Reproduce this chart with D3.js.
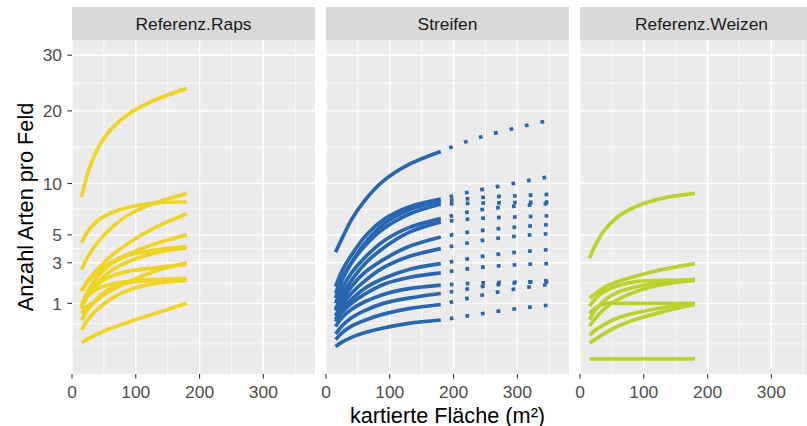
<!DOCTYPE html>
<html><head><meta charset="utf-8">
<script src="https://cdn.jsdelivr.net/npm/d3@7"></script>
<style>body{margin:0;background:#fff}svg{display:block}text{font-family:"Liberation Sans",Arial,sans-serif}</style>
</head><body><svg id="c" width="807" height="426"></svg>
<script>
// ---- data ----
const facets = ["Referenz.Raps", "Streifen", "Referenz.Weizen"];
const facetColors = ["#EFD425", "#2767B0", "#BDD12E"];
const xTicks = [0, 100, 200, 300];
const xMinor = [50, 150, 250, 350];
const yTicks = [1, 3, 5, 10, 20, 30];
const areaObs = [15, 25, 40, 60, 90, 130, 180];
const areaExt = [180, 215, 250, 300, 350];

const rapsObs = [
  [8.5, 11.3, 14.3, 17.0, 19.6, 21.8, 23.8],
  [4.4, 5.3, 6.2, 6.9, 7.5, 7.9, 8.0],
  [2.6, 3.4, 4.4, 5.5, 6.8, 7.9, 8.9],
  [1.5, 2.0, 2.6, 3.4, 4.4, 5.6, 6.85],
  [1.5, 1.95, 2.45, 3.0, 3.6, 4.3, 5.0],
  [1.0, 1.4, 1.9, 2.5, 3.1, 3.65, 4.0],
  [0.9, 1.5, 2.2, 2.9, 3.5, 3.85, 4.1],
  [0.67, 0.9, 1.15, 1.5, 1.95, 2.5, 3.0],
  [0.8, 1.3, 1.8, 2.2, 2.5, 2.7, 2.9],
  [0.49, 0.8, 1.2, 1.6, 1.9, 2.0, 2.0],
  [0.27, 0.5, 0.8, 1.15, 1.55, 1.85, 2.0],
  [1.0, 1.3, 1.6, 1.8, 1.95, 2.05, 2.1],
  [0.085, 0.13, 0.2, 0.3, 0.45, 0.67, 1.0]
];
const streifenObs = [
  [3.7, 4.7, 6.3, 8.1, 10.3, 12.3, 14.0],
  [1.7, 2.5, 3.5, 4.8, 6.3, 7.5, 8.3],
  [1.2, 2.0, 3.0, 4.3, 5.9, 7.2, 8.1],
  [1.4, 2.1, 3.0, 4.1, 5.5, 6.8, 7.8],
  [1.0, 1.6, 2.4, 3.3, 4.5, 5.6, 6.4],
  [0.8, 1.3, 2.0, 2.9, 4.0, 5.2, 6.1],
  [0.75, 1.1, 1.7, 2.4, 3.2, 4.1, 4.83],
  [0.6, 0.95, 1.4, 1.95, 2.7, 3.4, 3.95],
  [0.5, 0.8, 1.15, 1.6, 2.1, 2.6, 2.95],
  [0.45, 0.7, 1.0, 1.35, 1.8, 2.15, 2.4],
  [0.34, 0.55, 0.8, 1.05, 1.35, 1.6, 1.77],
  [0.2, 0.35, 0.55, 0.75, 1.0, 1.2, 1.39],
  [0.12, 0.22, 0.35, 0.48, 0.65, 0.82, 0.96],
  [0.05, 0.09, 0.15, 0.22, 0.31, 0.41, 0.49]
];
const streifenExt = [
  [14.0, 15.2, 16.2, 17.4, 18.5],
  [8.3, 8.9, 9.4, 10.1, 10.8],
  [8.1, 8.3, 8.5, 8.65, 8.8],
  [7.8, 7.85, 7.9, 7.95, 8.0],
  [6.4, 6.9, 7.3, 7.6, 7.85],
  [6.1, 6.3, 6.45, 6.55, 6.65],
  [4.83, 5.15, 5.4, 5.65, 5.86],
  [3.95, 4.3, 4.6, 4.9, 5.1],
  [2.95, 3.2, 3.45, 3.7, 3.88],
  [2.4, 2.6, 2.75, 2.88, 2.95],
  [1.77, 1.83, 1.88, 1.91, 1.93],
  [1.39, 1.55, 1.72, 1.88, 2.0],
  [0.96, 1.15, 1.35, 1.6, 1.8],
  [0.49, 0.58, 0.68, 0.82, 0.94]
];
const weizenObs = [
  [3.3, 4.3, 5.5, 6.6, 7.6, 8.4, 8.9],
  [1.2, 1.4, 1.7, 1.95, 2.25, 2.6, 2.95],
  [0.9, 1.2, 1.5, 1.75, 1.95, 2.0, 2.0],
  [0.5, 0.8, 1.15, 1.45, 1.7, 1.9, 2.05],
  [0.35, 0.55, 0.85, 1.15, 1.5, 1.8, 2.0],
  [0.67, 0.85, 1.0, 1.0, 1.0, 1.0, 1.0],
  [0.18, 0.28, 0.4, 0.55, 0.7, 0.85, 1.0],
  [0.08, 0.13, 0.22, 0.35, 0.52, 0.72, 0.97],
  [0, 0, 0, 0, 0, 0, 0]
];
const xTitle = "kartierte Fläche (m²)";
const yTitle = "Anzahl Arten pro Feld";

// ---- layout ----
const svg = d3.select("#c");
const panelLeft0 = 72, panelStep = 254, panelW = 243;
const panelTop = 40, panelBottom = 374;
const stripTop = 7, stripH = 33;
const fontTick = 17.4, fontTitle = 21.7;

const x = d3.scaleLinear().domain([0, 381]).range([0, panelW]);
// sqrt transform, limits 0..30 expanded 5% in transformed space
const sLo = 0, sHi = Math.sqrt(30), ex = (sHi - sLo) * 0.05;
const y = d3.scaleSqrt().domain([-(ex * ex), (sHi + ex) ** 2]).range([panelBottom, panelTop]);

// ggplot-style minor breaks in sqrt space
const tb = yTicks.map(Math.sqrt);
const bd = tb[1] - tb[0];
const ext = [tb[0] - bd, ...tb, tb[tb.length - 1] + bd];
const yMinor = [];
for (let i = 0; i < ext.length - 1; i++) yMinor.push((ext[i] + ext[i + 1]) / 2);
yMinor.push(ext[0]);
const yMinorVals = yMinor.map(s => Math.sign(s) * s * s);

const seriesByFacet = [
  rapsObs.map(v => ({vals: v, xs: areaObs, dotted: false})),
  streifenObs.map(v => ({vals: v, xs: areaObs, dotted: false}))
    .concat(streifenExt.map(v => ({vals: v, xs: areaExt, dotted: true}))),
  weizenObs.map(v => ({vals: v, xs: areaObs, dotted: false}))
];

const defs = svg.append("defs");

facets.forEach((name, fi) => {
  const left = panelLeft0 + fi * panelStep;
  const g = svg.append("g").attr("transform", `translate(${left},0)`);
  defs.append("clipPath").attr("id", "clip" + fi)
    .append("rect").attr("x", 0).attr("y", panelTop).attr("width", panelW).attr("height", panelBottom - panelTop);

  // strip
  g.append("rect").attr("x", 0).attr("y", stripTop).attr("width", panelW).attr("height", stripH).attr("fill", "#D9D9D9");
  g.append("text").attr("x", panelW / 2).attr("y", stripTop + stripH / 2 + 6.3)
    .attr("text-anchor", "middle").attr("font-size", fontTick).attr("fill", "#1A1A1A").text(name);

  // panel bg
  g.append("rect").attr("x", 0).attr("y", panelTop).attr("width", panelW).attr("height", panelBottom - panelTop).attr("fill", "#EBEBEB");

  const grid = g.append("g").attr("clip-path", `url(#clip${fi})`);
  grid.selectAll(".yminor").data(yMinorVals).join("line")
    .attr("x1", 0).attr("x2", panelW).attr("y1", d => y(d)).attr("y2", d => y(d))
    .attr("stroke", "#fff").attr("stroke-width", 0.7);
  grid.selectAll(".xminor").data(xMinor).join("line")
    .attr("y1", panelTop).attr("y2", panelBottom).attr("x1", d => x(d)).attr("x2", d => x(d))
    .attr("stroke", "#fff").attr("stroke-width", 0.7);
  grid.selectAll(".ymajor").data(yTicks).join("line")
    .attr("x1", 0).attr("x2", panelW).attr("y1", d => y(d)).attr("y2", d => y(d))
    .attr("stroke", "#fff").attr("stroke-width", 1.4);
  grid.selectAll(".xmajor").data(xTicks).join("line")
    .attr("y1", panelTop).attr("y2", panelBottom).attr("x1", d => x(d)).attr("x2", d => x(d))
    .attr("stroke", "#fff").attr("stroke-width", 1.4);

  // lines
  const line = d3.line().x(d => x(d[0])).y(d => y(d[1])).curve(d3.curveCatmullRom.alpha(0.5));
  const lg = g.append("g").attr("clip-path", `url(#clip${fi})`);
  seriesByFacet[fi].forEach(s => {
    const pts = s.xs.map((xx, i) => [xx, s.vals[i]]);
    const p = lg.append("path").attr("d", line(pts)).attr("fill", "none")
      .attr("stroke", facetColors[fi]).attr("stroke-width", 3.7)
      .attr("stroke-linejoin", "round");
    if (s.dotted) p.attr("stroke-dasharray", "3.7 12.1").attr("stroke-dashoffset", 6.7).attr("stroke-linecap", "butt");
  });

  // x axis
  const xa = g.append("g");
  xTicks.forEach(t => {
    xa.append("line").attr("x1", x(t)).attr("x2", x(t)).attr("y1", panelBottom).attr("y2", panelBottom + 4.6)
      .attr("stroke", "#333").attr("stroke-width", 1.1);
    xa.append("text").attr("x", x(t)).attr("y", panelBottom + 23.5).attr("text-anchor", "middle")
      .attr("font-size", fontTick).attr("fill", "#4D4D4D").text(t);
  });

  if (fi === 0) {
    const ya = g.append("g");
    yTicks.forEach(t => {
      ya.append("line").attr("x1", -4.6).attr("x2", 0).attr("y1", y(t)).attr("y2", y(t))
        .attr("stroke", "#333").attr("stroke-width", 1.1);
      ya.append("text").attr("x", -10).attr("y", y(t) + 6.2).attr("text-anchor", "end")
        .attr("font-size", fontTick).attr("fill", "#4D4D4D").text(t);
    });
  }
});

// titles
const totalCenter = panelLeft0 + (2 * panelStep + panelW) / 2;
svg.append("text").attr("x", totalCenter).attr("y", 422.5).attr("text-anchor", "middle")
  .attr("font-size", fontTitle).attr("fill", "#000").text(xTitle);
svg.append("text").attr("transform", `translate(33,${(panelTop + panelBottom) / 2}) rotate(-90)`)
  .attr("text-anchor", "middle").attr("font-size", fontTitle).attr("fill", "#000").text(yTitle);
</script></body></html>
